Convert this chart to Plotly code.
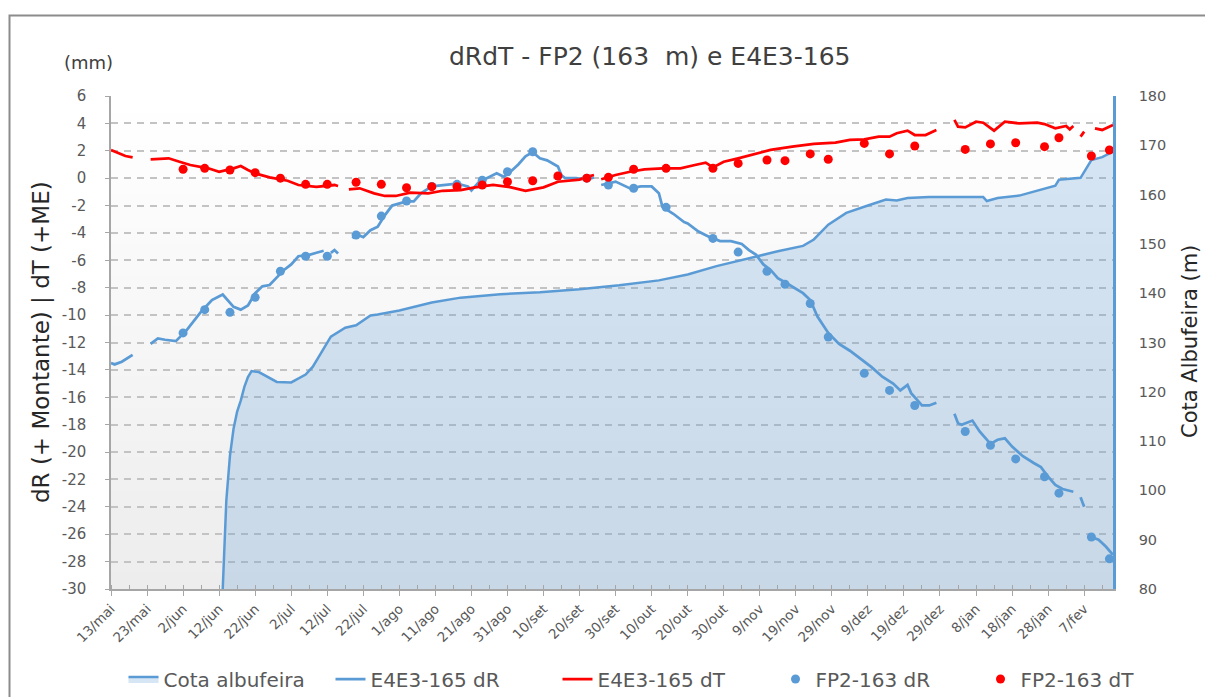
import plotly.graph_objects as go

# ---------------- data ----------------
cota_dates = ["2019-06-13", "2019-06-14", "2019-06-15", "2019-06-16", "2019-06-17", "2019-06-18",
              "2019-06-19", "2019-06-20", "2019-06-21", "2019-06-23", "2019-06-28", "2019-07-02",
              "2019-07-06", "2019-07-08", "2019-07-13", "2019-07-17", "2019-07-20", "2019-07-24",
              "2019-07-26", "2019-08-01", "2019-08-10", "2019-08-18", "2019-08-29", "2019-09-09",
              "2019-09-20", "2019-10-01", "2019-10-12", "2019-10-20", "2019-10-28", "2019-11-06",
              "2019-11-14", "2019-11-21", "2019-11-24", "2019-11-28", "2019-12-03", "2019-12-09",
              "2019-12-14", "2019-12-17", "2019-12-20", "2019-12-26", "2020-01-03", "2020-01-10",
              "2020-01-11", "2020-01-14", "2020-01-20", "2020-01-26", "2020-01-30", "2020-01-31",
              "2020-02-06", "2020-02-09", "2020-02-12", "2020-02-15"]
cota_vals = [80, 98, 107, 112.5, 116, 118.2,
             121, 123, 124.2, 124.0, 122.0, 121.9,
             123.5, 125.1, 131.2, 133.0, 133.5, 135.5,
             135.7, 136.5, 138.1, 139.1, 139.8, 140.2,
             140.8, 141.6, 142.6, 143.8, 145.5, 147.1,
             148.5, 149.6, 150.9, 153.9, 156.3, 157.8,
             159.0, 158.8, 159.3, 159.5, 159.5, 159.5,
             158.7, 159.3, 159.8, 161.0, 161.8, 163.0,
             163.4, 167.0, 167.6, 168.7]

e4_dr_dates = ["2019-05-13", "2019-05-14", "2019-05-16", "2019-05-18", "2019-05-19", "2019-05-21",
               "2019-05-24", "2019-05-26", "2019-05-28", "2019-05-31", "2019-06-03", "2019-06-07",
               "2019-06-10", "2019-06-13", "2019-06-16", "2019-06-18", "2019-06-20", "2019-06-22",
               "2019-06-24", "2019-06-26", "2019-06-30", "2019-07-02", "2019-07-04", "2019-07-07",
               "2019-07-09", "2019-07-11", "2019-07-12", "2019-07-13", "2019-07-14", "2019-07-15",
               "2019-07-17", "2019-07-19", "2019-07-20", "2019-07-22", "2019-07-24", "2019-07-26",
               "2019-07-28", "2019-07-30", "2019-08-03", "2019-08-05", "2019-08-07", "2019-08-10",
               "2019-08-14", "2019-08-17", "2019-08-20", "2019-08-21", "2019-08-23", "2019-08-25",
               "2019-08-28", "2019-08-30", "2019-09-01", "2019-09-03", "2019-09-05", "2019-09-07",
               "2019-09-09", "2019-09-11", "2019-09-14", "2019-09-15", "2019-09-16", "2019-09-19",
               "2019-09-22", "2019-09-24", "2019-09-25", "2019-09-26", "2019-09-30", "2019-10-04",
               "2019-10-07", "2019-10-10", "2019-10-12", "2019-10-13", "2019-10-16", "2019-10-19",
               "2019-10-20", "2019-10-23", "2019-10-26", "2019-10-29", "2019-11-01", "2019-11-04",
               "2019-11-06", "2019-11-08", "2019-11-10", "2019-11-12", "2019-11-14", "2019-11-16",
               "2019-11-18", "2019-11-21", "2019-11-23", "2019-11-25", "2019-11-28", "2019-12-01",
               "2019-12-04", "2019-12-07", "2019-12-10", "2019-12-13", "2019-12-16", "2019-12-18",
               "2019-12-20", "2019-12-21", "2019-12-23", "2019-12-24", "2019-12-26", "2019-12-28",
               "2019-12-30", "2020-01-02", "2020-01-03", "2020-01-04", "2020-01-07", "2020-01-09",
               "2020-01-12", "2020-01-14", "2020-01-16", "2020-01-18", "2020-01-21", "2020-01-24",
               "2020-01-26", "2020-01-28", "2020-01-30", "2020-02-01", "2020-02-03", "2020-02-04",
               "2020-02-05", "2020-02-06", "2020-02-07", "2020-02-08", "2020-02-09", "2020-02-11",
               "2020-02-13", "2020-02-15"]
e4_dr_vals = [-13.5, -13.6, -13.4, -13.1, -12.9, None,
              -12.1, -11.7, -11.8, -11.9, -11.1, -9.75,
              -8.9, -8.5, -9.4, -9.6, -9.3, -8.4,
              -7.9, -7.8, -6.7, -6.3, -5.7, -5.6,
              -5.45, -5.3, None, -5.45, -5.25, -5.5,
              None, -4.4, -4.1, -4.3, -3.8, -3.55,
              -2.7, -2.0, -1.7, -1.7, -1.1, -0.6,
              -0.5, -0.4, -0.6, -0.9, -0.3, -0.05,
              0.35, 0.1, 0.5, 1.0, 1.6, 1.9,
              1.45, 1.3, 0.85, 0.2, 0.0, 0.0,
              -0.1, 0.05, None, -0.5, -0.25, -0.75,
              -0.6, -0.6, -1.1, -2.1, -2.6, -3.2,
              -3.3, -3.9, -4.3, -4.6, -4.6, -4.8,
              -5.25, -5.6, -6.3, -6.7, -7.3, -7.6,
              -7.9, -8.4, -8.9, -10.1, -11.3, -12.1,
              -12.6, -13.2, -13.8, -14.5, -15.0, -15.5,
              -15.1, -15.7, -16.3, -16.6, -16.6, -16.4,
              None, -17.2, -17.9, -18.0, -17.7, -18.5,
              -19.4, -19.1, -19.0, -19.6, -20.3, -20.8,
              -21.1, -21.8, -22.4, -22.7, -22.8, -22.9,
              None, -23.3, -24.0, None, -26.2, -26.4,
              -26.9, -27.5]

e4_dt_dates = ["2019-05-13", "2019-05-15", "2019-05-17", "2019-05-19", "2019-05-21", "2019-05-24",
               "2019-05-29", "2019-06-01", "2019-06-04", "2019-06-09", "2019-06-12", "2019-06-16",
               "2019-06-18", "2019-06-20", "2019-06-22", "2019-06-26", "2019-07-01", "2019-07-04",
               "2019-07-09", "2019-07-14", "2019-07-15", "2019-07-17", "2019-07-18", "2019-07-21",
               "2019-07-25", "2019-07-28", "2019-07-31", "2019-08-04", "2019-08-09", "2019-08-13",
               "2019-08-18", "2019-08-22", "2019-08-27", "2019-09-01", "2019-09-05", "2019-09-10",
               "2019-09-14", "2019-09-18", "2019-09-20", "2019-09-22", "2019-09-24", "2019-09-25",
               "2019-09-26", "2019-09-30", "2019-10-04", "2019-10-08", "2019-10-13", "2019-10-18",
               "2019-10-22", "2019-10-25", "2019-10-27", "2019-10-30", "2019-11-03", "2019-11-08",
               "2019-11-12", "2019-11-18", "2019-11-24", "2019-11-30", "2019-12-04", "2019-12-08",
               "2019-12-12", "2019-12-15", "2019-12-17", "2019-12-20", "2019-12-22", "2019-12-25",
               "2019-12-28", "2019-12-30", "2020-01-02", "2020-01-03", "2020-01-05", "2020-01-08",
               "2020-01-10", "2020-01-13", "2020-01-16", "2020-01-20", "2020-01-25", "2020-01-27",
               "2020-01-30", "2020-02-02", "2020-02-03", "2020-02-04", "2020-02-05", "2020-02-06",
               "2020-02-07", "2020-02-08", "2020-02-10", "2020-02-12", "2020-02-15"]
e4_dt_vals = [2.06, 1.86, 1.62, 1.52, None, 1.38,
              1.45, 1.2, 0.96, 0.72, 0.47, 0.72,
              0.89, 0.6, 0.35, 0.06, -0.19, -0.5,
              -0.63, -0.5, -0.57, None, -0.82, -0.74,
              -1.11, -1.3, -1.3, -1.06, -1.11, -0.92,
              -0.87, -0.67, -0.5, -0.67, -0.92, -0.67,
              -0.26, -0.14, -0.1, 0.1, 0.23, None,
              -0.08, 0.23, 0.47, 0.64, 0.72, 0.72,
              0.96, 1.13, 0.79, 1.2, 1.45, 1.81,
              2.06, 2.3, 2.5, 2.59, 2.79, 2.84,
              3.03, 3.03, 3.28, 3.47, 3.15, 3.15,
              3.52, None, 4.25, 3.76, 3.71, 4.12,
              4.05, 3.47, 4.12, 4.0, 4.05, 3.95,
              3.64, 3.81, 3.57, 3.81, None, 3.03,
              3.4, None, 3.64, 3.52, 3.88]

fp2_dates = ["2019-06-02", "2019-06-08", "2019-06-15", "2019-06-22", "2019-06-29", "2019-07-06",
             "2019-07-12", "2019-07-20", "2019-07-27", "2019-08-03", "2019-08-10", "2019-08-17",
             "2019-08-24", "2019-08-31", "2019-09-07", "2019-09-14", "2019-09-22", "2019-09-28",
             "2019-10-05", "2019-10-14", "2019-10-27", "2019-11-03", "2019-11-11", "2019-11-16",
             "2019-11-23", "2019-11-28", "2019-12-08", "2019-12-15", "2019-12-22", "2020-01-05",
             "2020-01-12", "2020-01-19", "2020-01-27", "2020-01-31", "2020-02-09", "2020-02-14"]
fp2_dr = [-11.3, -9.6, -9.8, -8.7, -6.8, -5.7,
          -5.7, -4.15, -2.77, -1.67, -0.6, -0.45,
          -0.15, 0.47, 1.93, None, 0.0, -0.5,
          -0.74, -2.13, -4.4, -5.4, -6.8, -7.75,
          -9.15, -11.6, -14.25, -15.5, -16.6, -18.5,
          -19.5, -20.5, -21.8, -23.0, -26.2, -27.8]
fp2_dt = [0.65, 0.72, 0.6, 0.4, 0.0, -0.45,
          -0.45, -0.3, -0.45, -0.7, -0.62, -0.62,
          -0.5, -0.26, -0.19, 0.16, 0.0, 0.06,
          0.65, 0.72, 0.72, 1.08, 1.33, 1.28,
          1.77, 1.38, 2.54, 1.77, 2.35, 2.1,
          2.5, 2.59, 2.3, 2.95, 1.62, 2.06]

tick_dates = ["2019-05-13", "2019-05-23", "2019-06-02", "2019-06-12", "2019-06-22", "2019-07-02",
              "2019-07-12", "2019-07-22", "2019-08-01", "2019-08-11", "2019-08-21", "2019-08-31",
              "2019-09-10", "2019-09-20", "2019-09-30", "2019-10-10", "2019-10-20", "2019-10-30",
              "2019-11-09", "2019-11-19", "2019-11-29", "2019-12-09", "2019-12-19", "2019-12-29",
              "2020-01-08", "2020-01-18", "2020-01-28", "2020-02-07"]
tick_text = ["13/mai", "23/mai", "2/jun", "12/jun", "22/jun", "2/jul",
             "12/jul", "22/jul", "1/ago", "11/ago", "21/ago", "31/ago",
             "10/set", "20/set", "30/set", "10/out", "20/out", "30/out",
             "9/nov", "19/nov", "29/nov", "9/dez", "19/dez", "29/dez",
             "8/jan", "18/jan", "28/jan", "7/fev"]
left_tick_vals = [-30, -28, -26, -24, -22, -20, -18, -16, -14, -12, -10,
                  -8, -6, -4, -2, 0, 2, 4, 6]
left_tick_text = ["-30", "-28", "-26", "-24", "-22", "-20", "-18", "-16", "-14", "-12", "-10",
                  "-8", "-6", "-4", "-2", "0", "2", "4", "6"]

# ---------------- layout constants ----------------
W, H = 1205, 697
ML, MR, MT, MB = 111, 92, 96, 108
PW, PH = W - ML - MR, H - MT - MB
FONT = "DejaVu Sans"
BLUE = "#5b9bd5"
RED = "#ff0000"


def px(xp):
    return (xp - ML) / PW


def py(yp):
    return (H - MB - yp) / PH


fig = go.Figure()

fig.add_trace(go.Scatter(
    x=cota_dates, y=cota_vals, name="Cota albufeira", mode="lines",
    line=dict(color=BLUE, width=2.5), fill="tozeroy",
    fillcolor="rgba(91,155,213,0.25)", yaxis="y", legendrank=1, legendwidth=149))
fig.add_trace(go.Scatter(
    x=e4_dr_dates, y=e4_dr_vals, name="E4E3-165 dR", mode="lines",
    line=dict(color=BLUE, width=2.75), connectgaps=False, yaxis="y2", legendrank=2,
    legendwidth=169))
fig.add_trace(go.Scatter(
    x=e4_dt_dates, y=e4_dt_vals, name="E4E3-165 dT", mode="lines",
    line=dict(color=RED, width=2.75), connectgaps=False, yaxis="y2", legendrank=3,
    legendwidth=160))
fig.add_trace(go.Scatter(
    x=fp2_dates, y=fp2_dr, name="FP2-163 dR", mode="markers",
    marker=dict(color=BLUE, size=9), yaxis="y2", legendrank=4, legendwidth=147))
fig.add_trace(go.Scatter(
    x=fp2_dates, y=fp2_dt, name="FP2-163 dT", mode="markers",
    marker=dict(color=RED, size=9), yaxis="y2", legendrank=5))

# background gradient of the plot area
shapes = []
N = 30
for i in range(N):
    t = i / (N - 1)
    c = int(round(237 + (255 - 237) * t))
    shapes.append(dict(type="rect", xref="x domain", yref="y domain",
                       x0=0, x1=1, y0=i / N, y1=(i + 1) / N + 0.002,
                       fillcolor=f"rgb({c},{c},{c})", line=dict(width=0), layer="below"))
# outer chart border
shapes.append(dict(type="rect", xref="paper", yref="paper",
                   x0=px(9.5), x1=px(1215), y0=py(710), y1=py(15.5),
                   line=dict(color="#8c8c8c", width=2), fillcolor="rgba(0,0,0,0)", layer="above"))

annotations = [
    dict(text="dRdT - FP2 (163  m) e E4E3-165", x=px(650), y=py(57), xref="paper", yref="paper",
         showarrow=False, font=dict(family=FONT, size=25, color="#404040"),
         xanchor="center", yanchor="middle"),
    dict(text="(mm)", x=px(88), y=py(63), xref="paper", yref="paper",
         showarrow=False, font=dict(family=FONT, size=18, color="#404040"),
         xanchor="center", yanchor="middle"),
    dict(text="dR (+ Montante) | dT (+ME)", x=px(41), y=py(342), xref="paper", yref="paper",
         showarrow=False, textangle=-90, font=dict(family=FONT, size=23, color="#262626"),
         xanchor="center", yanchor="middle"),
    dict(text="Cota Albufeira (m)", x=px(1190), y=py(342), xref="paper", yref="paper",
         showarrow=False, textangle=-90, font=dict(family=FONT, size=21, color="#262626"),
         xanchor="center", yanchor="middle"),
]

fig.update_layout(
    width=W, height=H,
    margin=dict(l=ML, r=MR, t=MT, b=MB, autoexpand=False),
    paper_bgcolor="white", plot_bgcolor="white",
    font=dict(family=FONT, color="#595959"),
    shapes=shapes, annotations=annotations,
    showlegend=True,
    legend=dict(orientation="h", xref="paper", yref="paper",
                x=-0.0005, xanchor="left", y=py(679), yanchor="middle",
                indentation=13,
                font=dict(family=FONT, size=20, color="#595959"),
                entrywidthmode="pixels", traceorder="normal",
                bgcolor="rgba(0,0,0,0)", itemwidth=30),
    xaxis=dict(type="date", range=["2019-05-13", "2020-02-15"], automargin=False,
               tickmode="array", tickvals=tick_dates, ticktext=tick_text, tickangle=-45,
               tickfont=dict(family=FONT, size=13.5, color="#595959"),
               showgrid=False, showline=True, linecolor="#a6a6a6", linewidth=1.5,
               ticks="outside", ticklen=5, tickcolor="#a6a6a6", tickwidth=1.2,
               minor=dict(ticks="inside", ticklen=4, tickcolor="#a6a6a6",
                          tick0="2019-05-18", dtick=5 * 86400000, showgrid=False),
               zeroline=False, fixedrange=True),
    yaxis=dict(range=[80, 180], dtick=10, side="right", showgrid=False, zeroline=False,
               showline=True, linecolor=BLUE, linewidth=2.5, mirror=False,
               ticks="", ticklabelstandoff=20, automargin=False,
               tickfont=dict(family=FONT, size=14.5, color="#595959")),
    yaxis2=dict(range=[-30, 6], tickmode="array", tickvals=left_tick_vals,
                ticktext=left_tick_text, side="left", overlaying="y", anchor="x",
                showgrid=True, gridcolor="#c3c3c3", gridwidth=1.5, griddash="7px,6px",
                zeroline=False, showline=True, linecolor="#a6a6a6", linewidth=1.5,
                ticks="outside", ticklen=4, tickcolor="#a6a6a6", ticklabelstandoff=16,
                automargin=False,
                tickfont=dict(family=FONT, size=15, color="#595959")),
)

fig.write_html("out.html", config={"displayModeBar": False},
               post_script="document.body.style.margin='0';document.body.style.overflow='hidden';")
